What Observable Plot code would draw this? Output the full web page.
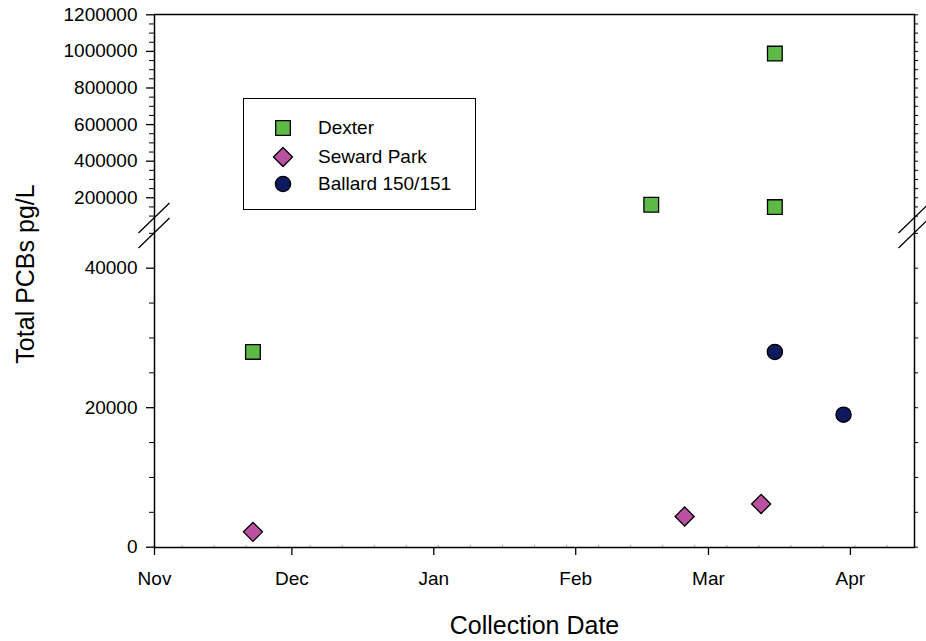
<!DOCTYPE html>
<html>
<head>
<meta charset="utf-8">
<script src="https://cdn.jsdelivr.net/npm/d3@7"></script>
<script src="https://cdn.jsdelivr.net/npm/@observablehq/plot@0.6"></script>
<style>
  body { margin: 0; background: white; }
  #wrap { position: relative; width: 926px; height: 641px; font-family: "Liberation Sans", Arial, sans-serif; }
  #legend { position: absolute; left: 243px; top: 98px; width: 231px; height: 110px; border: 1.5px solid black; background: white; }
  .row { position: absolute; left: 0; height: 24px; display: flex; align-items: center; font-size: 19px; color: black; }
  .row svg { position: absolute; left: 27px; }
  .row span { position: absolute; left: 74px; white-space: nowrap; }
</style>
</head>
<body>
<div id="wrap"><div id="chart"></div><div id="legend"></div></div>
<script>
// ---- data ----
const seriesNames = ["Dexter", "Seward Park", "Ballard 150/151"];
const dexterDates = ["2007-11-22T12:00Z", "2008-02-17T12:00Z", "2008-03-15T12:00Z", "2008-03-15T12:00Z"];
const dexterValues = [28000, 162000, 988000, 149000];
const sewardDates = ["2007-11-22T12:00Z", "2008-02-24T19:00Z", "2008-03-12T12:00Z"];
const sewardValues = [2200, 4400, 6200];
const ballardDates = ["2008-03-15T12:00Z", "2008-03-30T12:00Z"];
const ballardValues = [28000, 19000];
const yMajorTicks = [0, 20000, 40000, 200000, 400000, 600000, 800000, 1000000, 1200000];
const yMinorTicks = [5000, 10000, 15000, 25000, 30000, 35000, 45000,
  100000, 150000, 250000, 300000, 350000, 450000, 500000, 550000, 650000, 700000, 750000,
  850000, 900000, 950000, 1050000, 1100000, 1150000];
const monthTicks = ["2007-11-01", "2007-12-01", "2008-01-01", "2008-02-01", "2008-03-01", "2008-04-01"];
const xDomain = ["2007-11-01", "2008-04-15"];

const colors = ["#5dba47", "#ba50a0", "#0f195f"];
const symbols = ["square", "diamond2", "circle"];
const radii = [8.3, 8.6, 7.6];

const mk = (dates, values) => dates.map((d, i) => ({date: new Date(d), value: values[i]}));
const dexter = mk(dexterDates, dexterValues);
const seward = mk(sewardDates, sewardValues);
const ballard = mk(ballardDates, ballardValues);

const weekTicks = d3.utcWednesday.range(new Date("2007-11-02"), new Date("2008-04-15"));

const chart = Plot.plot({
  width: 926,
  height: 641,
  marginTop: 14,
  marginBottom: 94,
  marginLeft: 154,
  marginRight: 12,
  style: {fontFamily: "'Liberation Sans', Arial, sans-serif", fontSize: "19px", color: "black", background: "white"},
  x: {type: "utc", domain: xDomain.map(d => new Date(d))},
  y: {type: "linear", domain: [0, 46000, 48500, 1200000], range: [546.7, 225.85, 225, 14.3]},
  marks: [
    Plot.frame({stroke: "black", strokeWidth: 1.5}),
    Plot.axisY({ticks: yMajorTicks, tickSize: 8, tickPadding: 9, tickFormat: d3.format("d"), fontSize: 19, label: null, strokeWidth: 1.3}),
    Plot.axisY({ticks: yMinorTicks, tickSize: 5, tickFormat: () => "", label: null, strokeWidth: 1}),
    Plot.axisY({anchor: "right", ticks: yMajorTicks.concat(yMinorTicks), tickSize: 3, tickFormat: () => "", label: null, strokeWidth: 1}),
    Plot.axisX({ticks: monthTicks.map(d => new Date(d)), tickSize: 8, tickPadding: 16, tickFormat: d3.utcFormat("%b"), fontSize: 19, label: null, strokeWidth: 1.3}),
    Plot.axisX({ticks: weekTicks, tickSize: -2, tickFormat: () => "", label: null, stroke: "#999", strokeWidth: 1}),
    Plot.dot(dexter, {x: "date", y: "value", symbol: () => symbols[0], r: radii[0], fill: colors[0], stroke: "black", strokeWidth: 1.3}),
    Plot.dot(seward, {x: "date", y: "value", symbol: () => symbols[1], r: radii[1], fill: colors[1], stroke: "black", strokeWidth: 1.3}),
    Plot.dot(ballard, {x: "date", y: "value", symbol: () => symbols[2], r: radii[2], fill: colors[2], stroke: "black", strokeWidth: 1.3}),
    Plot.text(["Collection Date"], {text: d => d, frameAnchor: "bottom", lineAnchor: "middle", textAnchor: "middle", dy: 78, fontSize: 25, fill: "black"}),
    Plot.text(["Total PCBs pg/L"], {text: d => d, frameAnchor: "left", lineAnchor: "middle", textAnchor: "middle", dx: -129, dy: -7, rotate: -90, fontSize: 25, fill: "black"})
  ]
});

// axis break marks (decoration)
const svg = d3.select(chart);
const brk = svg.append("g").attr("stroke", "black").attr("stroke-width", 1.3);
[154, 914].forEach(x => {
  [218, 233].forEach(y => {
    brk.append("line").attr("x1", x - 15.5).attr("y1", y + 15).attr("x2", x + 15.5).attr("y2", y - 15);
  });
});
document.getElementById("chart").appendChild(chart);

// legend
const legend = document.getElementById("legend");
const rowCenters = [29, 58, 85];
const symbolTypes = [d3.symbolSquare, d3.symbolDiamond2, d3.symbolCircle];
seriesNames.forEach((name, i) => {
  const row = document.createElement("div");
  row.className = "row";
  row.style.top = (rowCenters[i] - 12) + "px";
  const size = Math.PI * radii[i] * radii[i];
  const path = d3.symbol(symbolTypes[i], size)();
  row.innerHTML = `<svg width="24" height="24" viewBox="-12 -12 24 24"><path d="${path}" fill="${colors[i]}" stroke="black" stroke-width="1.3"/></svg><span>${name}</span>`;
  legend.appendChild(row);
});
</script>
</body>
</html>
